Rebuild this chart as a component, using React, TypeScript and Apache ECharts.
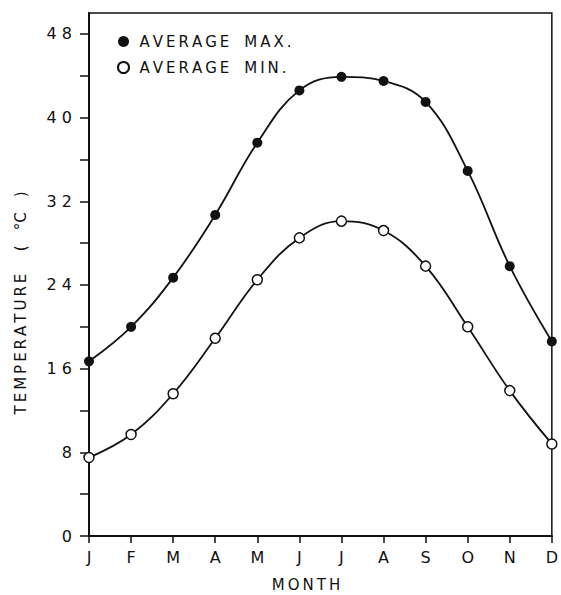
import React, { useEffect, useRef } from "react";
import * as echarts from "echarts";

const months = ["J", "F", "M", "A", "M", "J", "J", "A", "S", "O", "N", "D"];
const avgMax = [16.7, 20.0, 24.7, 30.7, 37.6, 42.6, 43.9, 43.5, 41.5, 34.9, 25.8, 18.6];
const avgMin = [7.5, 9.7, 13.6, 18.9, 24.5, 28.5, 30.1, 29.2, 25.8, 20.0, 13.9, 8.8];
const yTicks = [0, 4, 8, 12, 16, 20, 24, 28, 32, 36, 40, 44, 48];
const yLabels = [0, 8, 16, 24, 32, 40, 48];
const seriesNames = ["AVERAGE MAX.", "AVERAGE MIN."];
const yTitleWord = "TEMPERATURE";
const yTitleUnit = "(°C)";
const xTitle = "MONTH";

const FONT = "DejaVu Sans";
const INK = "#111";

const spaced = (s: string) =>
  s
    .split(" ")
    .map((w) => w.split("").join("\u2009"))
    .join("\u2003");

export default function App() {
  const ref = useRef<HTMLDivElement>(null);
  useEffect(() => {
    if (!ref.current) return;
    const chart = echarts.init(ref.current, undefined, { renderer: "svg" });
    chart.setOption({
      animation: false,
      backgroundColor: "#fff",
      grid: {
        left: 89,
        right: 5,
        top: 13,
        bottom: 59,
        show: true,
        borderColor: INK,
        borderWidth: 1.5,
      },
      legend: {
        data: seriesNames,
        orient: "vertical",
        left: 112,
        top: 28,
        icon: "circle",
        itemWidth: 22,
        itemHeight: 11,
        itemGap: 9,
        selectedMode: false,
        formatter: (n: string) => spaced(n),
        textStyle: { fontFamily: FONT, fontSize: 15, color: INK, lineHeight: 17 },
      },
      xAxis: {
        type: "category",
        data: months,
        boundaryGap: false,
        axisLine: { lineStyle: { color: INK, width: 2 } },
        axisTick: { show: true, inside: false, length: 7, lineStyle: { color: INK, width: 1.5 } },
        axisLabel: { fontFamily: FONT, fontSize: 16, color: INK, margin: 13 },
        splitLine: { show: false },
      },
      yAxis: {
        type: "value",
        min: 0,
        max: 50,
        axisLine: { show: true, lineStyle: { color: INK, width: 2 } },
        axisTick: {
          show: true,
          inside: false,
          length: 9,
          customValues: yTicks,
          lineStyle: { color: INK, width: 1.5 },
        },
        axisLabel: {
          customValues: yLabels,
          fontFamily: FONT,
          fontSize: 16,
          color: INK,
          margin: 17,
          formatter: (v: number) => String(v).split("").join(" "),
        },
        splitLine: { show: false },
      },
      graphic: [
        {
          type: "text",
          x: 21,
          y: 303,
          rotation: Math.PI / 2,
          style: {
            text:
              spaced(yTitleWord) +
              "\u2003\u2002" +
              yTitleUnit.replace("(", "(\u2003").replace(")", "\u2003)"),
            fontFamily: FONT,
            fontSize: 15,
            fill: INK,
            align: "center",
            verticalAlign: "middle",
          },
        },
        {
          type: "text",
          x: 306,
          y: 585,
          style: {
            text: spaced(xTitle),
            fontFamily: FONT,
            fontSize: 15,
            fill: INK,
            align: "center",
            verticalAlign: "middle",
          },
        },
      ],
      series: [
        {
          name: seriesNames[0],
          type: "line",
          data: avgMax,
          smooth: 0.4,
          symbol: "circle",
          symbolSize: 10,
          itemStyle: { color: INK },
          lineStyle: { color: INK, width: 1.8 },
          z: 3,
        },
        {
          name: seriesNames[1],
          type: "line",
          data: avgMin,
          smooth: 0.4,
          symbol: "circle",
          symbolSize: 10,
          itemStyle: { color: "#fff", borderColor: INK, borderWidth: 1.5 },
          lineStyle: { color: INK, width: 1.8 },
          z: 3,
        },
      ],
    });
    return () => chart.dispose();
  }, []);
  return (
    <div
      ref={ref}
      style={{ position: "fixed", left: 0, top: 0, width: 561, height: 595 }}
    />
  );
}
